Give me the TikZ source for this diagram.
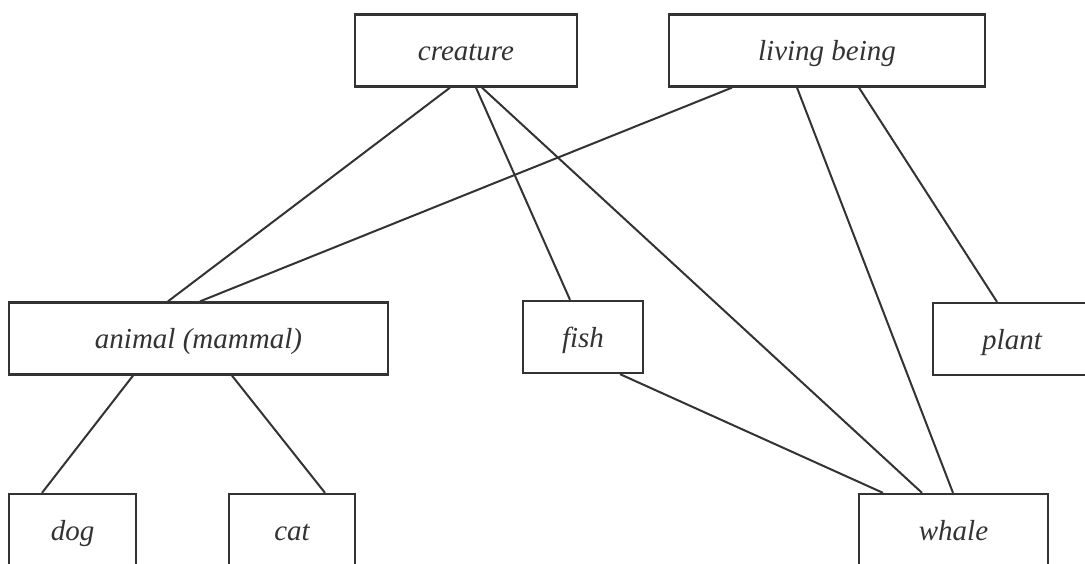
\documentclass[tikz,border=0pt]{standalone}
\usepackage{fontspec}
\setmainfont{Liberation Serif}
\definecolor{ink}{HTML}{333333}
\begin{document}
\begin{tikzpicture}[x=1pt,y=-1pt,
  concept/.style={draw=ink, line width=2.3pt, fill=white, text=ink,
    font=\fontsize{29}{34}\selectfont\itshape, inner sep=0pt,
    minimum height=72pt, text height=22pt, text depth=2pt},
  link/.style={draw=ink, line width=2pt}]
\clip (0,0) rectangle (1085,563);
\fill[white] (0,0) rectangle (1085,563);

% concept boxes
\node[concept, minimum width=222pt] (creature) at (466,50.5) {creature};
\node[concept, minimum width=316pt] (living) at (827,50.5) {living being};
\node[concept, minimum width=379pt] (animal) at (198.5,338.5) {animal (mammal)};
\node[concept, minimum width=120pt] (fish) at (583,337) {fish};
\node[concept, minimum width=158pt] (plant) at (1012,339) {plant};
\node[concept, minimum width=127pt] (dog) at (72.5,530) {dog};
\node[concept, minimum width=126pt] (cat) at (292,530) {cat};
\node[concept, minimum width=189pt] (whale) at (953.5,530) {whale};

% relations
\draw[link] ([xshift=-16pt]creature.south) -- ([xshift=-30.5pt]animal.north);
\draw[link] ([xshift=-95pt]living.south) -- ([xshift=1.5pt]animal.north);
\draw[link] ([xshift=10pt]creature.south) -- ([xshift=-13pt]fish.north);
\draw[link] ([xshift=16pt]creature.south) -- ([xshift=-31.5pt]whale.north);
\draw[link] ([xshift=-30pt]living.south) -- ([xshift=-0.5pt]whale.north);
\draw[link] ([xshift=32pt]living.south) -- ([xshift=-15pt]plant.north);
\draw[link] ([xshift=37pt]fish.south) -- ([xshift=-70.5pt]whale.north);
\draw[link] ([xshift=-65.5pt]animal.south) -- ([xshift=-30.5pt]dog.north);
\draw[link] ([xshift=33.5pt]animal.south) -- ([xshift=33pt]cat.north);
\end{tikzpicture}
\end{document}
